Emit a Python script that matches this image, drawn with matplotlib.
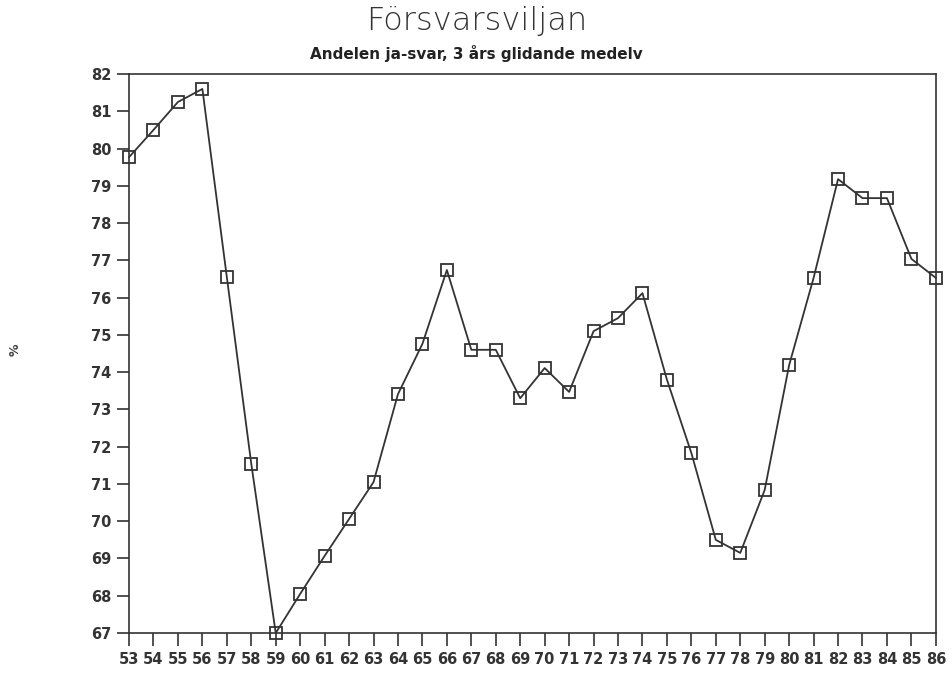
import matplotlib
matplotlib.use("Agg")
import matplotlib.pyplot as plt

years = list(range(53, 87))
values = [79.77, 80.50, 81.25, 81.60, 76.55, 71.54, 67.00, 68.05, 69.07, 70.06,
          71.05, 73.41, 74.76, 76.74, 74.60, 74.60, 73.30, 74.11, 73.47, 75.10,
          75.45, 76.12, 73.80, 71.83, 69.50, 69.15, 70.84, 74.19, 76.53, 79.18,
          78.67, 78.67, 77.04, 76.53]
yticks = list(range(67, 83))
title = "Försvarsviljan"
subtitle = "Andelen ja-svar, 3 års glidande medelv"
ylabel = "%"

fig = plt.figure(figsize=(9.53, 6.73), dpi=100)
ax = fig.add_axes([0.1354, 0.0594, 0.982 - 0.1354, 0.890 - 0.0594])
ax.plot(years, values, color="#333333", lw=1.3, marker="s", markersize=8.5,
        markerfacecolor="none", markeredgecolor="#333333", markeredgewidth=1.3,
        clip_on=False, zorder=3)
ax.set_xlim(53, 86)
ax.set_ylim(67, 82)
ax.set_xticks(years)
ax.set_xticklabels([str(y) for y in years], fontsize=10.5, fontweight="bold",
                   color="#333333")
ax.set_yticks(yticks)
ax.set_yticklabels([str(v) for v in yticks], fontsize=10.5, fontweight="bold",
                   color="#333333")
ax.tick_params(axis="both", direction="out", length=9, width=1.2, color="#333333")
ax.tick_params(axis="x", pad=5)
for s in ax.spines.values():
    s.set_color("#333333")
    s.set_linewidth(1.2)
fig.text(0.5, 0.969, title, ha="center", va="center", fontsize=23,
         fontweight="light", color="#333333")
fig.text(0.5, 0.921, subtitle, ha="center", va="center", fontsize=11,
         fontweight="bold", color="#222222")
fig.text(0.016, 0.48, ylabel, ha="center", va="center", rotation=90,
         fontsize=9, fontweight="bold", color="#444444")
fig.savefig("out.png", dpi=100)
